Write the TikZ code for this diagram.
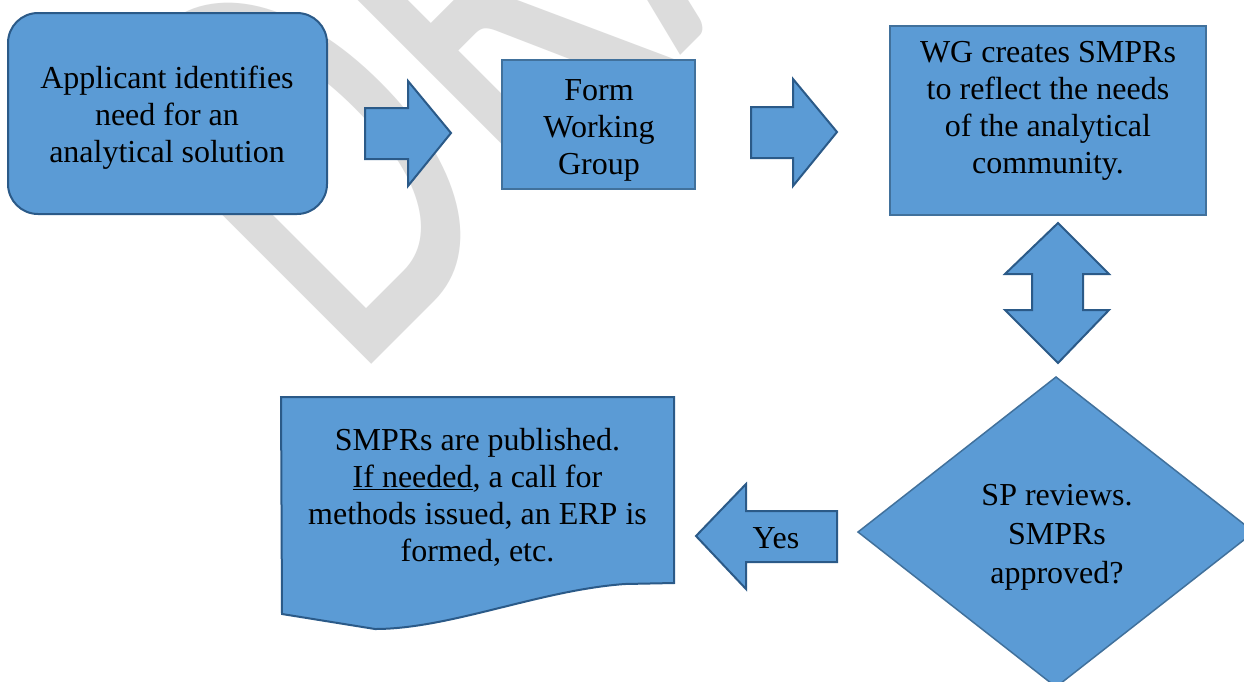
\documentclass[tikz,border=0pt]{standalone}
\usepackage{fontspec}
\setmainfont{LiberationSerif}[Extension=.ttf, UprightFont=*-Regular, BoldFont=*-Bold, ItalicFont=*-Italic, BoldItalicFont=*-BoldItalic]
\newfontfamily\wmfont{Carlito}
\definecolor{boxfill}{HTML}{5B9BD5}
\definecolor{boxline}{HTML}{41719C}
\definecolor{darkline}{HTML}{2B5A88}
\definecolor{wmgray}{HTML}{DCDCDC}
\begin{document}
\begin{tikzpicture}[x=1pt,y=-1pt,
  txt/.style={align=center, font=\rmfamily\fontsize{32}{37}\selectfont, inner sep=0pt, text=black},
  flowbox/.style={draw=boxline, line width=2pt, fill=boxfill, inner sep=0pt},
  blockarrow/.style={draw=darkline, line width=2pt, fill=boxfill, line join=miter},
  watermark/.style={text=wmgray, inner sep=0pt, font=\wmfont\fontsize{400}{400}\selectfont},
]
\useasboundingbox (0,0) rectangle (1244,681);
\fill[white] (0,0) rectangle (1244,681);

% background watermark, stretched along the letter height
\node[watermark, rotate=45, yscale=1.5, anchor=base west] (draft) at (352,384) {DRAFT};

% step boxes
\node[flowbox, draw=darkline, rounded corners=30pt, minimum width=319, minimum height=201] (applicant) at (167.5,113.5) {};
\node[txt] (applicanttext) at (167,118) {Applicant identifies\\need for an\\analytical solution};

\node[flowbox, minimum width=193, minimum height=129] (form) at (598.5,124.5) {};
\node[txt] (formtext) at (599,130.5) {Form\\Working\\Group};

\node[flowbox, minimum width=316, minimum height=189] (wg) at (1048,120.5) {};
\node[txt] (wgtext) at (1048,111) {WG creates SMPRs\\to reflect the needs\\of the analytical\\community.};

% decision
\draw[fill=boxfill, draw=boxline, line width=1.5pt] (1056,377) coordinate (dtop) -- (1254,532) -- (1056,687) -- (858,532) coordinate (dleft) -- cycle;
\node[txt, font=\rmfamily\fontsize{32}{39}\selectfont] (review) at (1057,537) {SP reviews.\\SMPRs\\approved?};

% published document
\draw[fill=boxfill, draw=darkline, line width=2pt] (281,397) coordinate (dtl) -- (674,397) -- (674,583) -- (625,584)
  .. controls (540,590) and (450,629) .. (375,629) -- (282,614) -- cycle;
\node[txt] (published) at (477.5,497.5) {SMPRs are published.\\\underline{If needed}, a call for\\methods issued, an ERP is\\formed, etc.};

% block arrows
\draw[blockarrow] (365,108) -- (408,108) -- (408,81) -- (451,133) -- (408,186) -- (408,159) -- (365,159) -- cycle;
\draw[blockarrow] (751,107) -- (793,107) -- (793,79) -- (837,132) -- (793,186) -- (793,158) -- (751,158) -- cycle;
\draw[blockarrow] (1058,223) -- (1109,274) -- (1083,274) -- (1083,310) -- (1109,310) -- (1058,363)
  -- (1005,310) -- (1032,310) -- (1032,274) -- (1005,274) -- cycle;
\draw[blockarrow] (696,536) -- (746,484) -- (746,511) -- (837,511) -- (837,562) -- (746,562) -- (746,589) -- cycle;
\node[txt] (yes) at (776,538) {Yes};
\end{tikzpicture}
\end{document}
